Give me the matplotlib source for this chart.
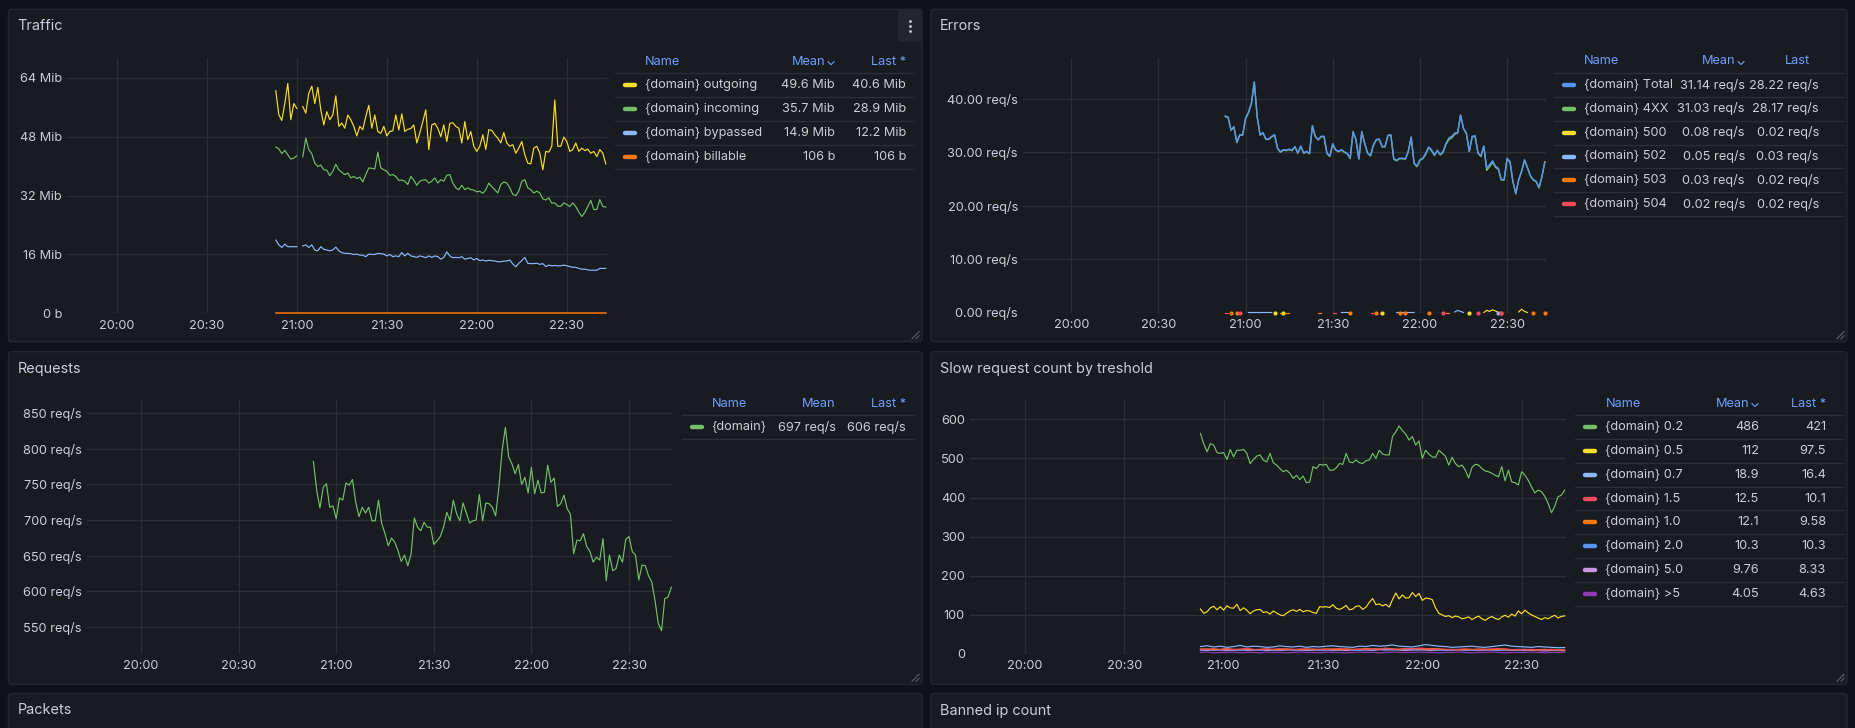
import numpy as np
import pandas as pd
import matplotlib
matplotlib.use('Agg')
import matplotlib.pyplot as plt
import matplotlib.dates as mdates
from matplotlib.patches import FancyBboxPatch

nan = np.nan

# ---------------- data ----------------
times = pd.date_range('2024-05-14 20:53', '2024-05-14 22:43', freq='1min')
times_2m = pd.date_range('2024-05-14 20:53', '2024-05-14 22:43', freq='2min')

# Traffic (Mib)
traffic_outgoing = [60.5, 54.0, 52.4, 57.0, 62.5, 52.6, 57.0, 55.7, nan, 56.2,
                    54.4, 59.8, 61.7, 57.0, 61.4, 55.3, 51.2, 54.8, 52.6, 53.9,
                    59.1, 50.8, 51.7, 50.3, 53.9, 52.6, 50.8, 48.2, 50.8, 49.9,
                    53.5, 56.5, 50.3, 53.9, 49.4, 48.9, 50.8, 48.2, 49.4, 49.6,
                    53.9, 49.8, 54.2, 49.4, 50.0, 50.2, 51.2, 46.3, 49.0, 52.1,
                    55.3, 44.5, 51.2, 51.6, 50.3, 48.0, 51.2, 46.7, 51.6, 51.8,
                    50.8, 50.3, 46.3, 52.1, 47.2, 49.4, 45.4, 44.0, 45.4, 48.5,
                    44.5, 49.9, 49.7, 48.5, 47.6, 46.3, 49.1, 46.3, 45.4, 45.8,
                    43.5, 44.9, 46.7, 43.1, 40.8, 40.6, 44.9, 45.4, 43.5, 39.0,
                    44.0, 43.8, 45.4, 58.0, 45.4, 45.4, 47.9, 46.7, 44.0, 44.5,
                    46.3, 44.0, 44.9, 44.2, 44.6, 43.5, 44.0, 42.6, 44.5, 43.5,
                    40.6]
traffic_incoming = [45.2, 44.7, 43.4, 44.3, 43.1, 41.9, 42.2, 42.8, nan, 42.5,
                    47.6, 44.5, 43.4, 40.8, 39.9, 40.3, 39.0, 38.9, 37.4, 38.6,
                    40.5, 39.0, 38.3, 37.7, 38.1, 36.8, 37.2, 36.6, 37.0, 35.7,
                    37.7, 39.5, 39.4, 39.2, 43.8, 39.5, 39.0, 38.6, 37.5, 37.7,
                    37.2, 36.1, 36.2, 35.9, 35.0, 37.2, 36.2, 34.8, 35.9, 36.2,
                    36.3, 35.4, 35.9, 36.8, 35.4, 36.3, 35.9, 37.5, 37.7, 35.4,
                    34.1, 33.6, 34.8, 33.6, 34.1, 33.6, 33.5, 33.0, 33.2, 32.6,
                    33.6, 35.4, 34.4, 33.6, 32.7, 35.0, 35.7, 35.4, 34.1, 32.3,
                    32.0, 33.2, 35.9, 36.3, 34.1, 33.6, 32.7, 33.2, 32.7, 31.1,
                    30.8, 31.4, 29.9, 30.0, 29.1, 29.1, 30.0, 29.6, 29.0, 30.0,
                    29.0, 27.5, 26.3, 27.4, 29.0, 30.7, 28.2, 28.2, 30.9, 29.0,
                    28.9]
traffic_bypassed = [19.9, 18.6, 17.9, 18.8, 18.1, 18.1, 18.1, 18.1, nan, 18.3,
                    18.6, 17.9, 18.6, 17.2, 17.0, 18.1, 17.4, 17.2, 17.0, 17.2,
                    18.0, 17.0, 16.5, 16.3, 16.3, 16.2, 16.0, 16.1, 15.8, 15.8,
                    15.4, 16.1, 16.0, 16.0, 16.3, 16.2, 16.1, 15.6, 16.0, 15.4,
                    15.6, 15.4, 16.5, 15.6, 16.3, 15.6, 15.4, 15.2, 15.6, 15.4,
                    15.1, 15.6, 15.2, 15.6, 15.4, 14.7, 15.2, 16.7, 15.6, 15.1,
                    15.2, 15.1, 15.4, 14.7, 14.9, 15.1, 14.5, 14.9, 14.3, 14.5,
                    14.2, 14.4, 14.3, 14.2, 14.0, 14.0, 14.2, 14.2, 14.5, 13.4,
                    12.6, 13.6, 14.3, 15.2, 13.6, 13.5, 13.5, 13.6, 13.3, 13.5,
                    12.7, 13.1, 12.9, 13.0, 12.9, 12.9, 13.1, 12.9, 12.7, 12.5,
                    12.5, 12.2, 12.0, 12.0, 11.8, 11.7, 11.7, 11.7, 12.2, 12.2,
                    12.2]
billable_times = ['2024-05-14 20:53', '2024-05-14 22:43']
traffic_billable = [0.0001, 0.0001]

traffic_names = ['{domain} outgoing', '{domain} incoming', '{domain} bypassed', '{domain} billable']
traffic_means = ['49.6 Mib', '35.7 Mib', '14.9 Mib', '106 b']
traffic_lasts = ['40.6 Mib', '28.9 Mib', '12.2 Mib', '106 b']

# Errors (req/s)
errors_total = [36.8, 36.6, 34.2, 34.8, 31.9, 33.3, 33.3, 36.4, 37.5, 39.2,
                43.2, 36.7, 33.3, 33.7, 32.5, 32.5, 33.0, 33.3, 30.8, 30.1,
                30.5, 30.4, 30.6, 30.4, 31.1, 29.9, 31.2, 29.9, 30.2, 29.8,
                35.0, 33.0, 32.4, 33.0, 33.0, 29.9, 29.3, 31.6, 30.5, 30.2,
                30.5, 30.1, 29.8, 28.9, 33.9, 32.4, 28.8, 33.9, 31.7, 29.9,
                29.4, 31.4, 32.4, 32.5, 31.1, 31.1, 33.2, 33.3, 28.8, 28.5,
                28.9, 28.9, 28.8, 30.2, 32.9, 28.0, 27.4, 28.6, 28.9, 29.8,
                31.0, 30.5, 29.5, 30.4, 29.6, 30.2, 31.7, 32.7, 33.0, 33.6,
                33.7, 37.0, 34.5, 33.6, 30.2, 33.0, 33.1, 29.9, 29.3, 31.2,
                27.1, 27.7, 28.4, 27.4, 27.0, 24.9, 24.9, 28.9, 28.3, 24.6,
                22.3, 24.9, 26.5, 28.6, 27.2, 25.7, 24.9, 24.6, 23.4, 25.5,
                28.2]
errors_4xx = [36.7, 36.5, 34.1, 34.7, 31.8, 33.2, 33.2, 36.3, 37.4, 39.1,
              43.1, 36.6, 33.2, 33.6, 32.4, 32.4, 32.9, 33.2, 30.7, 30.0,
              30.4, 30.3, 30.5, 30.3, 31.0, 29.8, 31.1, 29.8, 30.1, 29.7,
              34.9, 32.9, 32.3, 32.9, 32.9, 29.8, 29.2, 31.5, 30.4, 30.1,
              30.4, 30.0, 29.7, 28.8, 33.8, 32.3, 28.7, 33.8, 31.6, 29.8,
              29.3, 31.3, 32.3, 32.4, 31.0, 31.0, 33.1, 33.2, 28.7, 28.4,
              28.8, 28.8, 28.7, 30.1, 32.8, 27.9, 27.3, 28.5, 28.8, 29.6,
              30.9, 30.3, 29.4, 30.3, 29.5, 30.0, 31.5, 32.4, 32.7, 33.4,
              33.6, 36.9, 34.4, 33.5, 30.1, 32.9, 33.0, 29.8, 29.2, 31.1,
              26.6, 27.3, 28.1, 27.2, 26.8, 24.8, 24.8, 28.7, 28.2, 24.5,
              22.2, 24.8, 26.4, 28.5, 27.1, 25.6, 24.8, 24.5, 23.3, 25.4,
              28.2]
err_500_t = ['21:10', '21:11', '21:13', '21:14', '21:47', '21:48', '22:17', '22:18',
             '22:22', '22:23', '22:24', '22:25', '22:26', '22:27', '22:28',
             '22:34', '22:35', '22:36', '22:37']
err_500 = [0, nan, 0, nan, 0, nan, 0, nan, 0, 0.4, 0.2, 0.5, 0.3, 0, nan, 0.1, 0.6, 0.2, 0]
err_502_t = ['21:01', '21:02', '21:03', '21:04', '21:05', '21:06', '21:07', '21:08', '21:09', '21:10',
             '21:33', '21:34', '21:35', '21:36', '21:37',
             '21:52', '21:53', '21:54', '21:55', '21:56', '21:57', '21:58', '21:59',
             '22:12', '22:13', '22:14', '22:15', '22:16', '22:27']
err_502 = [0, 0, 0, 0, 0, 0, 0, 0, 0, nan,
           0, 0, 0, 0, nan,
           0, 0, 0, 0, 0, 0, 0, nan,
           0.1, 0.4, 0.2, 0, nan, 0]
err_503_t = ['20:55', '20:56', '20:57', '20:58', '21:12', '21:13', '21:14', '21:15', '21:16',
             '21:25', '21:26', '21:27', '21:36', '21:37', '21:45', '21:46', '21:53', '21:54',
             '21:55', '21:56', '22:03', '22:04', '22:09', '22:10', '22:11', '22:28', '22:29',
             '22:39', '22:40', '22:43']
err_503 = [0, nan, 0, nan, 0, 0, 0, 0, nan,
           0, 0, nan, 0, nan, 0, nan, 0, nan,
           0, nan, 0, nan, 0, 0, nan, 0, nan,
           0, nan, 0]
err_504_t = ['20:53', '20:54', '20:55', '20:58', '20:59', '21:30', '21:31', '21:32',
             '21:43', '21:44', '21:45', '22:08', '22:09', '22:20', '22:21', '22:28']
err_504 = [0, 0, nan, 0, nan, 0, 0, nan, 0, 0, nan, 0, nan, 0, nan, 0]

errors_names = ['{domain} Total', '{domain} 4XX', '{domain} 500', '{domain} 502', '{domain} 503', '{domain} 504']
errors_means = ['31.14 req/s', '31.03 req/s', '0.08 req/s', '0.05 req/s', '0.03 req/s', '0.02 req/s']
errors_lasts = ['28.22 req/s', '28.17 req/s', '0.02 req/s', '0.03 req/s', '0.02 req/s', '0.02 req/s']

# Requests (req/s)
requests = [782, 742, 717, 746, 751, 718, 720, 702, 731, 728,
            752, 749, 757, 725, 705, 718, 710, 718, 699, 699,
            728, 695, 681, 664, 675, 669, 657, 642, 651, 636,
            652, 703, 690, 685, 697, 690, 690, 666, 671, 677,
            690, 711, 699, 728, 709, 699, 724, 710, 696, 699,
            700, 736, 699, 724, 723, 718, 706, 746, 798, 830,
            789, 779, 765, 778, 750, 760, 738, 774, 737, 756,
            738, 739, 777, 753, 759, 719, 723, 735, 716, 708,
            653, 672, 671, 681, 663, 656, 641, 648, 644, 674,
            615, 651, 629, 632, 651, 641, 673, 677, 656, 651,
            616, 637, 636, 622, 613, 587, 555, 545, 590, 592,
            606]
requests_names = ['{domain}']
requests_means = ['697 req/s']
requests_lasts = ['606 req/s']

# Slow request count by threshold
slow_02 = [564, 537, 517, 538, 534, 515, 513, 515, 497, 523,
           504, 521, 521, 523, 513, 487, 497, 506, 509, 496,
           491, 513, 489, 483, 474, 466, 470, 462, 449, 457,
           446, 455, 438, 440, 479, 474, 485, 483, 485,
           470, 470, 476, 487, 485, 513, 491, 489, 496,
           489, 487, 494, 496, 513, 500, 521, 511, 509,
           509, 556, 568, 583, 571, 562, 547, 556, 534,
           545, 500, 521, 511, 504, 503, 521, 513, 506,
           483, 503, 487, 479, 483, 470, 450, 477, 485,
           483, 474, 468, 466, 462, 457, 453, 479, 443, 470,
           440, 438, 432, 466, 457, 444, 427, 412, 419,
           415, 403, 385, 361, 378, 402, 406, 419]
slow_05 = [115, 104, 108, 118, 122, 113, 121, 112, 123, 118,
           117, 127, 111, 118, 112, 103, 110, 113, 114, 106,
           108, 102, 110, 105, 100, 98, 104, 110, 113, 109,
           114, 108, 111, 110, 106, 104, 121, 120, 121, 119,
           126, 117, 114, 118, 124, 113, 115, 122, 123, 114,
           120, 132, 142, 126, 128, 123, 127, 120, 139, 156,
           141, 151, 143, 144, 157, 147, 155, 137, 143, 142,
           139, 118, 104, 100, 96, 98, 93, 97, 95, 90,
           92, 95, 88, 93, 97, 90, 86, 92, 96, 91,
           88, 95, 99, 94, 102, 97, 110, 103, 112, 105,
           100, 96, 92, 88, 93, 90, 95, 99, 92, 96,
           97.5]
slow_07 = [19, 21, 18, 20, 17, 19, 22, 18,
           20, 19, 17, 18, 21, 19, 18, 20,
           17, 19, 18, 20, 21, 19, 18, 17,
           20, 19, 22, 20, 21, 23, 20, 19,
           18, 21, 24, 22, 20, 19, 17, 18,
           19, 20, 18, 17, 19, 21, 23, 20,
           19, 18, 17, 19, 18, 17, 16, 16.4]
slow_15 = [13, 12, 14, 11, 13, 12, 12, 14,
           12, 11, 13, 12, 14, 12, 11, 13,
           12, 13, 11, 12, 13, 14, 12, 11,
           13, 12, 14, 13, 15, 13, 12, 14,
           13, 15, 14, 12, 13, 12, 11, 12,
           13, 12, 11, 12, 13, 14, 12, 11,
           12, 11, 12, 10, 11, 12, 11, 10.1]
slow_10 = [12, 13, 11, 12, 14, 11, 12, 13,
           11, 12, 13, 11, 12, 13, 12, 11,
           13, 11, 12, 13, 12, 11, 13, 12,
           12, 14, 13, 12, 14, 13, 12, 13,
           14, 13, 12, 14, 13, 11, 12, 11,
           12, 11, 13, 12, 11, 12, 13, 11,
           11, 12, 10, 11, 12, 10, 11, 9.58]
slow_20 = [10, 11, 9, 10, 12, 10, 9, 11,
           10, 9, 11, 10, 10, 12, 9, 10,
           11, 10, 9, 10, 11, 10, 12, 10,
           9, 11, 10, 12, 11, 10, 11, 12,
           11, 10, 12, 11, 10, 9, 10, 11,
           10, 9, 10, 11, 10, 9, 11, 10,
           10, 11, 9, 10, 11, 10, 9, 10.3]
slow_50 = [10, 9, 11, 10, 9, 10, 11, 9,
           10, 11, 9, 10, 9, 10, 11, 10,
           9, 10, 10, 11, 9, 10, 9, 10,
           11, 10, 9, 11, 10, 12, 10, 9,
           10, 11, 10, 9, 10, 9, 10, 11,
           9, 10, 9, 10, 11, 9, 10, 9,
           10, 9, 10, 9, 8, 9, 9, 8.33]
slow_gt5 = [4, 5, 3, 4, 4, 5, 3, 4,
            4, 3, 5, 4, 4, 3, 4, 5,
            4, 4, 3, 5, 4, 4, 3, 4,
            5, 4, 4, 3, 4, 5, 4, 4,
            4, 5, 4, 4, 3, 4, 4, 5,
            4, 3, 4, 4, 5, 4, 3, 4,
            4, 4, 5, 4, 3, 4, 4, 4.63]
slow_names = ['{domain} 0.2', '{domain} 0.5', '{domain} 0.7', '{domain} 1.5',
              '{domain} 1.0', '{domain} 2.0', '{domain} 5.0', '{domain} >5']
slow_means = ['486', '112', '18.9', '12.5', '12.1', '10.3', '9.76', '4.05']
slow_lasts = ['421', '97.5', '16.4', '10.1', '9.58', '10.3', '8.33', '4.63']

# ---------------- style ----------------
W, H = 1856, 728
CANVAS = '#111217'
PANEL = '#181b1f'
BORDER = '#25272c'
GRID = '#2c2e33'
TEXT = '#ccccdc'
HEAD = '#6e9fff'
SEP = '#2c2e34'
GREEN, YELLOW, LBLUE, ORANGE = '#73bf69', '#fade2a', '#8ab8ff', '#ff780a'
BLUE, RED, PURPLE, DPURPLE = '#5794f2', '#f2495c', '#ca95e5', '#8f3bb8'
FS = 9.2
LW = 0.85

plt.rcParams['font.family'] = ['Inter', 'DejaVu Sans']

fig = plt.figure(figsize=(W / 100, H / 100), dpi=100, facecolor=CANVAS)
bg = fig.add_axes([0, 0, 1, 1])
bg.set_xlim(0, W)
bg.set_ylim(H, 0)
bg.axis('off')

t0 = pd.Timestamp('2024-05-14 19:43:24')
t1 = pd.Timestamp('2024-05-14 22:43:24')


def panel(x0, y0, x1, y1, title, handle=True):
    bg.add_patch(FancyBboxPatch((x0, y0), x1 - x0, y1 - y0,
                                boxstyle='round,pad=0,rounding_size=3',
                                fc=PANEL, ec=BORDER, lw=1))
    bg.text(x0 + 9, y0 + 17, title, color=TEXT, fontsize=10.4,
            fontweight='normal', va='center', ha='left')
    if handle:
        bg.plot([x1 - 10, x1 - 3], [y1 - 3, y1 - 10], color='#5f626a', lw=0.8)
        bg.plot([x1 - 6, x1 - 3], [y1 - 3, y1 - 6], color='#5f626a', lw=0.8)


def plot_axes(x0, y0, x1, y1, ylim, yticks, ylabels):
    ax = fig.add_axes([x0 / W, 1 - y1 / H, (x1 - x0) / W, (y1 - y0) / H])
    ax.set_facecolor('none')
    for s in ax.spines.values():
        s.set_visible(False)
    ax.set_xlim(t0, t1)
    ax.set_ylim(*ylim)
    ax.set_yticks(yticks)
    ax.set_yticklabels(ylabels)
    ax.xaxis.set_major_locator(mdates.MinuteLocator(byminute=[0, 30]))
    ax.xaxis.set_major_formatter(mdates.DateFormatter('%H:%M'))
    ax.tick_params(axis='both', length=0, colors=TEXT, labelsize=FS)
    ax.tick_params(axis='y', pad=3.6)
    ax.tick_params(axis='x', pad=4.5)
    ax.grid(True, color=GRID, lw=1)
    ax.set_axisbelow(True)
    return ax


def table_legend(x0, x1, y_head, mean_r, last_r, last_head_r, names, means, lasts,
                 colors, chevron=True, last_head='Last *'):
    name_x = x0 + 30
    bg.text(name_x, y_head, 'Name', color=HEAD, fontsize=FS, va='center', ha='left')
    if chevron:
        bg.text(mean_r - 9, y_head, 'Mean', color=HEAD, fontsize=FS, va='center', ha='right')
        bg.plot([mean_r - 7, mean_r - 4, mean_r - 1], [y_head, y_head + 3, y_head],
                color=HEAD, lw=0.8)
    else:
        bg.text(mean_r, y_head, 'Mean', color=HEAD, fontsize=FS, va='center', ha='right')
    bg.text(last_head_r, y_head, last_head, color=HEAD, fontsize=FS, va='center', ha='right')
    step = 23.8
    top = y_head + 11.6
    for i in range(len(names) + 1):
        bg.plot([x0, x1], [top + step * i] * 2, color=SEP, lw=1)
    for i, (n, m, l, c) in enumerate(zip(names, means, lasts, colors)):
        y = top + 12 + step * i
        bg.plot([x0 + 10, x0 + 20], [y, y], color=c, lw=3.2, solid_capstyle='round')
        bg.text(name_x, y, n, color=TEXT, fontsize=FS, va='center', ha='left')
        bg.text(mean_r, y, m, color=TEXT, fontsize=FS, va='center', ha='right')
        bg.text(last_r, y, l, color=TEXT, fontsize=FS, va='center', ha='right')


def sparse_series(ax, tlist, vals, color):
    t = pd.to_datetime(['2024-05-14 ' + s for s in tlist])
    v = np.array(vals, dtype=float)
    ax.plot(t, v, color=color, lw=LW, clip_on=False, zorder=4)
    iso = [not np.isnan(v[i]) and (i == 0 or np.isnan(v[i - 1])) and
           (i == len(v) - 1 or np.isnan(v[i + 1])) for i in range(len(v))]
    ax.plot(t[iso], v[iso], 'o', color=color, ms=3.0, mew=0, clip_on=False, zorder=5)


# ---------------- panels ----------------
panel(8.5, 9.3, 922, 341.7, 'Traffic')
panel(931, 9.3, 1847, 341.7, 'Errors')
panel(8.5, 351.7, 922, 684.3, 'Requests')
panel(931, 351.7, 1847, 684.3, 'Slow request count by treshold')
panel(8.5, 693.5, 922, 760, 'Packets', handle=False)
panel(931, 693.5, 1847, 760, 'Banned ip count', handle=False)

# panel menu on Traffic
bg.add_patch(FancyBboxPatch((898, 9.8), 23.5, 32, boxstyle='round,pad=0,rounding_size=2',
                            fc='#23262c', ec='none'))
bg.plot([910, 910, 910], [20.7, 26, 31.3], 'o', color=TEXT, ms=2.0, mew=0)

# Traffic
ax = plot_axes(67, 58.3, 607, 313.3, (0, 69.3), [0, 16, 32, 48, 64],
               ['0 b', '16 Mib', '32 Mib', '48 Mib', '64 Mib'])
ax.plot(times, traffic_outgoing, color=YELLOW, lw=LW)
ax.plot(times, traffic_incoming, color=GREEN, lw=LW)
ax.plot(times, traffic_bypassed, color=LBLUE, lw=LW)
ax.plot(pd.to_datetime(billable_times), traffic_billable, color=ORANGE, lw=1.1, clip_on=False)
table_legend(615, 914, 61.7, 835, 906, 906, traffic_names, traffic_means, traffic_lasts,
             [YELLOW, GREEN, LBLUE, ORANGE])

# Errors
ax = plot_axes(1023, 58.3, 1546, 312.5, (0, 47.6), [0, 10, 20, 30, 40],
               ['0.00 req/s', '10.00 req/s', '20.00 req/s', '30.00 req/s', '40.00 req/s'])
ax.plot(times, errors_4xx, color=GREEN, lw=1.0)
ax.plot(times, errors_total, color=BLUE, lw=1.0)
sparse_series(ax, err_502_t, err_502, LBLUE)
sparse_series(ax, err_500_t, err_500, YELLOW)
sparse_series(ax, err_503_t, err_503, ORANGE)
sparse_series(ax, err_504_t, err_504, RED)
table_legend(1554, 1843, 61.5, 1745, 1819, 1810, errors_names, errors_means, errors_lasts,
             [BLUE, GREEN, YELLOW, LBLUE, ORANGE, RED], last_head='Last')

# Requests
ax = plot_axes(87, 400, 672.6, 654, (512.3, 868.4), [550, 600, 650, 700, 750, 800, 850],
               ['550 req/s', '600 req/s', '650 req/s', '700 req/s', '750 req/s',
                '800 req/s', '850 req/s'])
ax.plot(times, requests, color=GREEN, lw=LW)
table_legend(681.6, 914, 403.7, 836, 906, 906, requests_names, requests_means, requests_lasts,
             [GREEN], chevron=False)

# Slow requests
ax = plot_axes(970, 400, 1566, 654, (0, 649.4), [0, 100, 200, 300, 400, 500, 600],
               ['0', '100', '200', '300', '400', '500', '600'])
ax.plot(times_2m, slow_gt5, color=DPURPLE, lw=LW)
ax.plot(times_2m, slow_50, color=PURPLE, lw=LW)
ax.plot(times_2m, slow_20, color=BLUE, lw=LW)
ax.plot(times_2m, slow_10, color=ORANGE, lw=LW)
ax.plot(times_2m, slow_15, color=RED, lw=LW)
ax.plot(times_2m, slow_07, color=LBLUE, lw=LW)
ax.plot(times, slow_05, color=YELLOW, lw=LW)
ax.plot(times, slow_02, color=GREEN, lw=LW)
table_legend(1575.5, 1843, 403.6, 1759, 1826, 1826, slow_names, slow_means, slow_lasts,
             [GREEN, YELLOW, LBLUE, RED, ORANGE, BLUE, PURPLE, DPURPLE])

fig.savefig('out.png', dpi=100, facecolor=CANVAS)
